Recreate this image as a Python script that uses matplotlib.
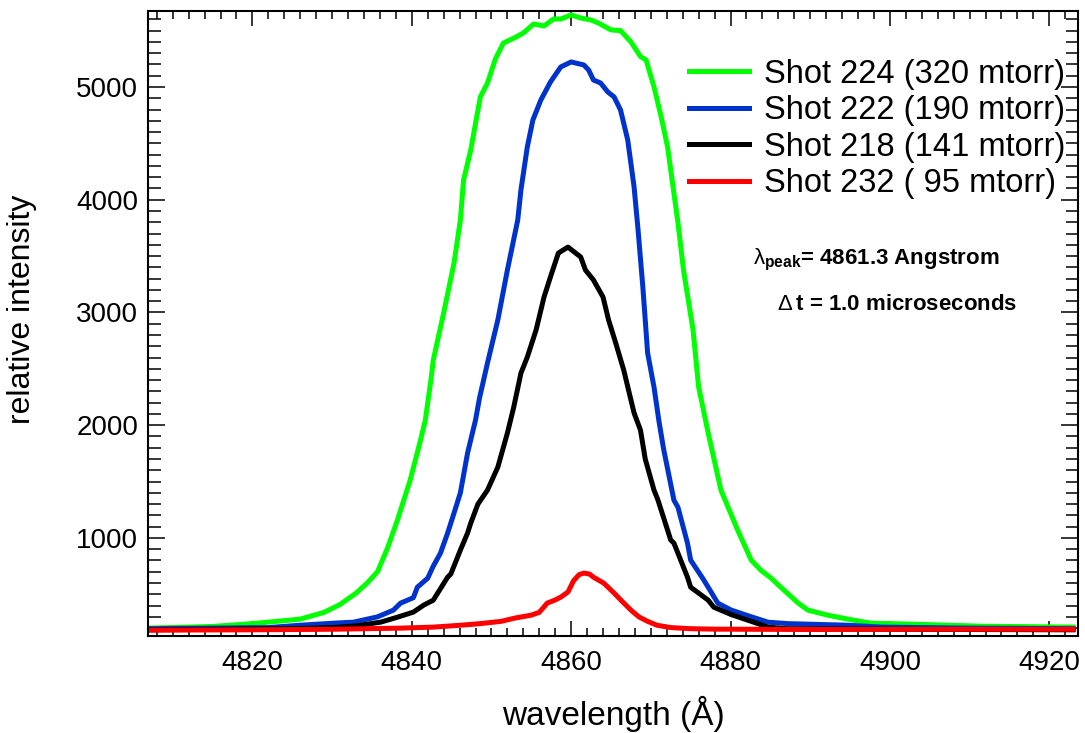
import matplotlib
matplotlib.use("Agg")
import matplotlib.pyplot as plt
from matplotlib.ticker import MultipleLocator

plt.rcParams['font.family'] = ['Liberation Sans', 'DejaVu Sans']
plt.rcParams['mathtext.fontset'] = 'custom'
plt.rcParams['mathtext.rm'] = 'Liberation Sans'
plt.rcParams['mathtext.bf'] = 'Liberation Sans:bold'

# Shot 224 (320 mtorr)
wl_224 = [4807, 4815, 4820, 4823, 4826, 4829, 4831, 4833, 4834.4, 4835.7, 4837, 4838.2,
          4839.8, 4841.1, 4841.7, 4842.4, 4842.7, 4844, 4845.3, 4846.1, 4846.5, 4847.4,
          4848.6, 4849.5, 4850.5, 4851.5, 4853, 4854, 4855.3, 4856.6, 4857.8, 4858.7,
          4860, 4861.2, 4862.5, 4863.4, 4865, 4866.2, 4867.5, 4868.7, 4869.4, 4870.4,
          4871.3, 4872.1, 4873.4, 4874.1, 4875.3, 4876, 4877.2, 4878.8, 4880.9, 4882.6,
          4883.8, 4885.1, 4886.3, 4888.5, 4889.7, 4892.2, 4894.7, 4897.6, 4903, 4911.5, 4923]
int_224 = [200, 215, 240, 260, 280, 340, 410, 510, 600, 700, 918, 1158,
           1513, 1868, 2045, 2400, 2578, 2995, 3438, 3820, 4175, 4441,
           4911, 5035, 5250, 5390, 5440, 5479, 5559, 5541, 5603, 5603,
           5639, 5612, 5594, 5568, 5506, 5500, 5400, 5270, 5240, 5000,
           4734, 4468, 3800, 3376, 2844, 2338, 1930, 1424, 1069, 803,
           714, 643, 563, 422, 360, 315, 280, 244, 235, 217, 209]

# Shot 222 (190 mtorr)
wl_222 = [4807, 4822, 4826, 4830.2, 4832.7, 4835.7, 4837.7, 4838.6, 4840.2, 4840.7, 4842,
          4842.7, 4843.6, 4844.5, 4845.3, 4846.1, 4847, 4848, 4848.5, 4849.5, 4850.8, 4852,
          4853.3, 4853.7, 4854.5, 4855.2, 4856.2, 4857.4, 4858.7, 4860, 4861.6, 4862.2,
          4862.8, 4863.7, 4864.6, 4865.4, 4866.2, 4867.1, 4867.9, 4868.4, 4869, 4869.6,
          4870.4, 4871, 4871.6, 4872.9, 4873.4, 4874.6, 4875, 4876.5, 4877.2, 4878.4,
          4880.1, 4882.2, 4884.7, 4887.2, 4894.7, 4899, 4910, 4923]
int_222 = [195, 205, 226, 244, 253, 300, 360, 422, 470, 563, 643,
           750, 865, 1043, 1220, 1400, 1752, 2045, 2240, 2551, 2933, 3376,
           3820, 4086, 4468, 4707, 4885, 5044, 5178, 5222, 5195, 5150,
           5062, 5035, 4956, 4911, 4796, 4530, 4113, 3731, 3225, 2640,
           2338, 2045, 1790, 1335, 1273, 954, 803, 643, 563, 422,
           360, 310, 253, 240, 226, 209, 200, 195]

# Shot 218 (141 mtorr)
wl_218 = [4807, 4825, 4830, 4833, 4836.1, 4838.2, 4840.2, 4841.5, 4842.7, 4844.5, 4844.9,
          4846.1, 4847, 4847.4, 4848.3, 4849.5, 4850.8, 4852, 4852.4, 4852.8, 4853.7,
          4854.5, 4855.6, 4856.6, 4857.4, 4858.4, 4859.6, 4861.2, 4861.8, 4862.8, 4864,
          4864.7, 4865.6, 4866.6, 4867.9, 4868.7, 4869.3, 4870.4, 4870.9, 4872.5, 4872.9,
          4874.6, 4875, 4877.2, 4877.9, 4880.1, 4882.9, 4884.7, 4887, 4900, 4923]
int_218 = [185, 195, 205, 220, 253, 297, 342, 404, 448, 652, 680,
           892, 1043, 1131, 1300, 1424, 1628, 1930, 2045, 2161, 2462,
           2604, 2844, 3137, 3314, 3527, 3580, 3492, 3376, 3288, 3137,
           2933, 2728, 2489, 2108, 1957, 1700, 1424, 1335, 981, 954,
           652, 563, 448, 386, 320, 253, 209, 195, 190, 185]

# Shot 232 (95 mtorr)
wl_232 = [4807, 4820, 4830, 4838.6, 4842.7, 4846, 4848.6, 4851.2, 4853, 4855, 4856,
          4857, 4858, 4858.7, 4859.6, 4860.3, 4861, 4861.6, 4862.3, 4862.8, 4864.1,
          4865.4, 4866.5, 4867.5, 4868.5, 4869.6, 4870.8, 4872.5, 4875, 4878, 4890,
          4905, 4923]
int_232 = [182, 185, 190, 200, 209, 225, 240, 260, 290, 315, 340,
           422, 450, 475, 520, 620, 675, 688, 680, 652, 599,
           510, 430, 360, 300, 260, 225, 205, 195, 191, 188,
           190, 190]

labels = ['Shot 224 (320 mtorr)', 'Shot 222 (190 mtorr)',
          'Shot 218 (141 mtorr)', 'Shot 232 ( 95 mtorr)']
colors = ['#00FF00', '#0033CC', '#000000', '#FF0000']

fig = plt.figure(figsize=(10.85, 7.33), dpi=100)
ax = fig.add_axes([0.1364, 0.1323, 0.8571, 0.8527])

series = [(wl_224, int_224), (wl_222, int_222), (wl_218, int_218), (wl_232, int_232)]
for (x, y), lab, c in zip(series, labels, colors):
    ax.plot(x, y, color=c, lw=3.6, label=lab, solid_joinstyle='round')

ax.set_xlim(4806.9, 4923.6)
ax.set_ylim(130, 5674)
ax.xaxis.set_major_locator(MultipleLocator(20))
ax.xaxis.set_minor_locator(MultipleLocator(2))
ax.yaxis.set_major_locator(MultipleLocator(1000))
ax.yaxis.set_minor_locator(MultipleLocator(100))

for s in ax.spines.values():
    s.set_linewidth(1.5)
ax.tick_params(which='both', direction='in', top=True, right=True, width=1.1, labelsize=20)
ax.tick_params(axis='x', which='major', length=11, pad=10)
ax.tick_params(axis='x', which='minor', length=6)
ax.tick_params(axis='y', which='major', length=12, pad=7)
ax.tick_params(axis='y', which='minor', length=9)

ax.set_xlabel('wavelength (Å)', fontsize=24, labelpad=14)
ax.set_ylabel('relative intensity', fontsize=23)
ax.yaxis.set_label_coords(-0.119, 0.522)

leg = ax.legend(loc='upper right', bbox_to_anchor=(1.004, 0.95), fontsize=23.5, frameon=False,
                handlelength=1.84, handletextpad=0.46, labelspacing=0.17, borderaxespad=0.1)

ax.text(0.783, 0.601, r'$\mathrm{\lambda}_{\mathbf{peak}}$= 4861.3 Angstrom', transform=ax.transAxes,
        fontsize=16, fontweight='bold', ha='center', va='center')
ax.text(0.806, 0.530, r'$\Delta\,$t = 1.0 microseconds', transform=ax.transAxes,
        fontsize=16, fontweight='bold', ha='center', va='center')

fig.savefig('out.png', dpi=100)
